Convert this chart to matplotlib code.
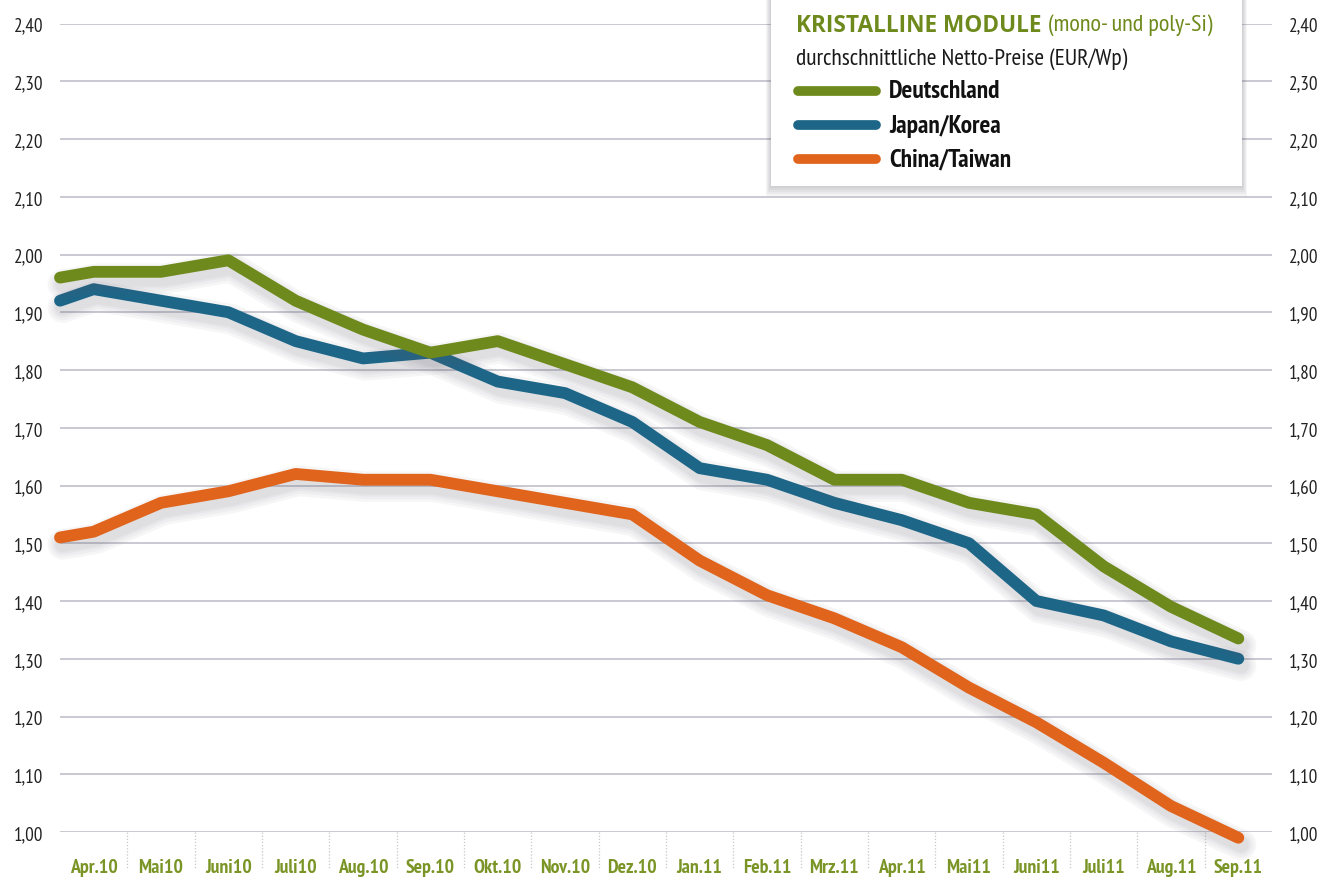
import matplotlib
matplotlib.use("Agg")
import matplotlib.pyplot as plt
from matplotlib import font_manager
from matplotlib.patches import Rectangle
import matplotlib.patheffects as pe
import matplotlib.transforms as mtransforms
import numpy as np

# ---- data: average net module prices (EUR/Wp) ----
months = ["Apr.10", "Mai10", "Juni10", "Juli10", "Aug.10", "Sep.10", "Okt.10",
          "Nov.10", "Dez.10", "Jan.11", "Feb.11", "Mrz.11", "Apr.11", "Mai11",
          "Juni11", "Juli11", "Aug.11", "Sep.11"]
# first value is the opening price at the start of the period
deutschland = [1.96, 1.97, 1.97, 1.99, 1.92, 1.87, 1.83, 1.85, 1.81, 1.77,
               1.71, 1.67, 1.61, 1.61, 1.57, 1.55, 1.46, 1.39, 1.335]
japan_korea = [1.92, 1.94, 1.92, 1.90, 1.85, 1.82, 1.83, 1.78, 1.76, 1.71,
               1.63, 1.61, 1.57, 1.54, 1.50, 1.40, 1.375, 1.33, 1.30]
china_taiwan = [1.51, 1.52, 1.57, 1.59, 1.62, 1.61, 1.61, 1.59, 1.57, 1.55,
                1.47, 1.41, 1.37, 1.32, 1.25, 1.19, 1.12, 1.045, 0.99]
series_names = ["Deutschland", "Japan/Korea", "China/Taiwan"]
y_ticks = [1.00, 1.10, 1.20, 1.30, 1.40, 1.50, 1.60, 1.70, 1.80, 1.90,
           2.00, 2.10, 2.20, 2.30, 2.40]


# ---- fonts ----
def pick(candidates, fallback):
    available = {f.name for f in font_manager.fontManager.ttflist}
    for c in candidates:
        if c in available:
            return c
    return fallback


NARROW = pick(["Myriad Pro Condensed", "PT Sans Narrow", "Fira Sans Condensed",
               "Roboto Condensed", "Archivo Narrow", "Asap Condensed",
               "Liberation Sans Narrow"], "DejaVu Sans")
WIDE = pick(["Open Sans", "DejaVu Sans"], "DejaVu Sans")


def narrow(size, weight="normal"):
    return font_manager.FontProperties(family=NARROW, size=size, weight=weight)


GREEN = "#6f8a1c"
LABEL_GREEN = "#7a9526"
BLUE = "#1d6688"
ORANGE = "#e0641c"
GRID = "#c9c9d1"

W, H = 1326, 878
fig = plt.figure(figsize=(W / 100, H / 100), dpi=100)
fig.patch.set_facecolor("white")

ax_left, ax_right, ax_top, ax_bottom = 60, 1272, 24.5, 833
ax = fig.add_axes([ax_left / W, 1 - ax_bottom / H,
                   (ax_right - ax_left) / W, (ax_bottom - ax_top) / H])
ax.set_xlim(-0.5, len(months) - 0.5)
ax.set_ylim(1.00, 2.40)
for s in ax.spines.values():
    s.set_visible(False)

ax.set_yticks(y_ticks)
ax.set_yticklabels([f"{v:.2f}".replace(".", ",") for v in y_ticks])
ax.grid(axis="y", color=GRID, linewidth=1.4)
ax.set_axisbelow(True)
ax.tick_params(axis="y", length=0, labelleft=True, labelright=True,
               pad=12, labelcolor="#222222")
for t in ax.yaxis.get_major_ticks():
    t.label1.set_fontproperties(narrow(13.8))
    t.label2.set_fontproperties(narrow(13.8))

ax.set_xticks(range(len(months)))
ax.set_xticklabels(months)
ax.tick_params(axis="x", length=0, pad=19)
for lab in ax.get_xticklabels():
    lab.set_fontproperties(narrow(14.2, "bold"))
    lab.set_color(LABEL_GREEN)

# dotted separators between the month labels
trans = mtransforms.blended_transform_factory(ax.transData, ax.transAxes)
for k in range(len(months) - 1):
    ax.plot([k + 0.5, k + 0.5], [0, -0.045], transform=trans, clip_on=False,
            color="#c8c8c8", linewidth=0.9, linestyle=(0, (1, 1.5)))

# x positions: opening value at the left edge, then one per month
x = np.concatenate([[-0.5], np.arange(len(months))])

shadow = [pe.SimpleLineShadow(offset=(2, -5), shadow_color="#606070", alpha=0.05, linewidth=w)
          for w in (22, 18, 14, 11)] + [pe.Normal()]

for vals, col in [(china_taiwan, ORANGE), (japan_korea, BLUE), (deutschland, GREEN)]:
    ax.plot(x, vals, color=col, linewidth=8.5, solid_capstyle="round",
            solid_joinstyle="round", clip_on=False, path_effects=shadow, zorder=3)

# ---- legend box ----
bx0, bx1, by1 = 771, 1242, 187
for i in range(5):
    d = 2 + i * 2
    fig.add_artist(Rectangle(((bx0 - d * 0.5) / W, 1 - (by1 + d) / H),
                             (bx1 - bx0 + d) / W, (by1 + d) / H,
                             transform=fig.transFigure, facecolor="#404050",
                             edgecolor="none", alpha=0.05, zorder=4))
fig.add_artist(Rectangle((bx0 / W, 1 - by1 / H), (bx1 - bx0) / W, by1 / H + 0.01,
                         transform=fig.transFigure, facecolor="white",
                         edgecolor="none", zorder=5))

tx = 796 / W
t1 = fig.text(tx, 1 - 26 / H, "KRISTALLINE MODULE", color=GREEN, fontsize=16.3,
              fontweight="bold", family=WIDE, va="center", ha="left", zorder=6)
fig.canvas.draw()
bb = t1.get_window_extent(fig.canvas.get_renderer())
fig.text(bb.x1 / W + 7 / W, 1 - 25 / H, "(mono- und poly-Si)", color=GREEN,
         va="center", ha="left", zorder=6, fontproperties=narrow(17.5))
fig.text(tx, 1 - 59 / H, "durchschnittliche Netto-Preise (EUR/Wp)", color="#1a1a1a",
         va="center", ha="left", zorder=6, fontproperties=narrow(17))

for name, col, yy in zip(series_names, [GREEN, BLUE, ORANGE], [92, 126, 160]):
    fig.add_artist(plt.Line2D([798 / W, 876 / W], [1 - yy / H, 1 - yy / H],
                              transform=fig.transFigure, color=col, linewidth=7,
                              solid_capstyle="round", zorder=6))
    fig.text(889 / W, 1 - yy / H, name, color="#111111",
             va="center", ha="left", zorder=6, fontproperties=narrow(18.3, "bold"))

fig.savefig("out.png", dpi=100, facecolor="white")
